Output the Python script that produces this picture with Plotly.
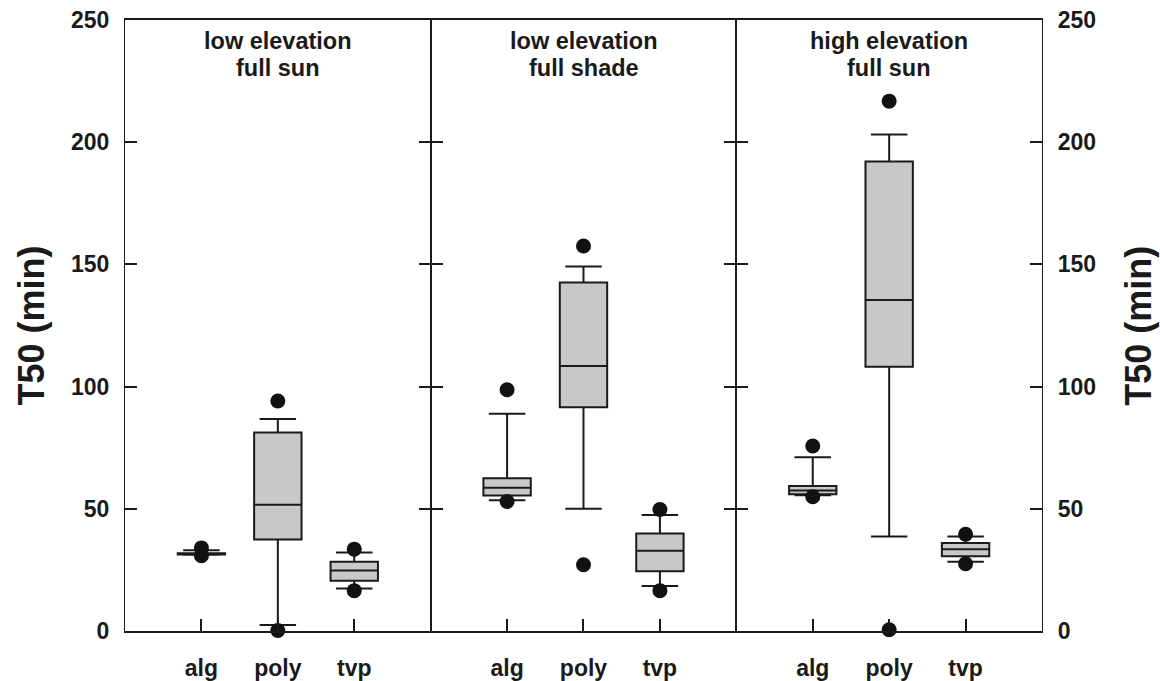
import plotly.graph_objects as go
from plotly.subplots import make_subplots

# Groups shown in each panel
categories = ["alg", "poly", "tvp"]
panel_elevation = ["low elevation", "low elevation", "high elevation"]
panel_light = ["full sun", "full shade", "full sun"]

# Box statistics per panel (rows) and category (columns), T50 in minutes
lower_fence = [[31.2, 2.5, 17.4], [53.5, 50.0, 18.4], [55.5, 38.7, 28.3]]
q1 = [[31.3, 37.4, 20.6], [55.4, 91.6, 24.4], [56.0, 108.1, 30.6]]
median = [[31.5, 51.7, 24.8], [58.6, 108.4, 32.8], [57.5, 135.4, 33.4]]
q3 = [[31.8, 81.2, 28.3], [62.5, 142.6, 39.9], [59.3, 192.1, 36.0]]
upper_fence = [[33.0, 86.7, 32.1], [88.9, 149.1, 47.5], [71.1, 203.1, 38.7]]

# Extreme points (above / below the whiskers)
outlier_high = [[34.0, 94.1, 33.5], [98.7, 157.5, 49.7], [75.7, 216.8, 39.6]]
outlier_low = [[30.8, 0.2, 16.5], [53.0, 27.1, 16.5], [54.9, 0.5, 27.5]]

y_ticks = [0, 50, 100, 150, 200, 250]

FONT = "Liberation Sans, Arial, sans-serif"
INK = "#1a1a1a"

fig = make_subplots(rows=1, cols=3, shared_yaxes=False, horizontal_spacing=0)

for p in range(3):
    col = p + 1
    for c, cat in enumerate(categories):
        fig.add_trace(
            go.Box(
                x=[cat],
                q1=[q1[p][c]],
                median=[median[p][c]],
                q3=[q3[p][c]],
                lowerfence=[lower_fence[p][c]],
                upperfence=[upper_fence[p][c]],
                boxpoints=False,
                width=0.62,
                whiskerwidth=0.77,
                fillcolor="#c8c8c8",
                line=dict(color=INK, width=2),
                showlegend=False,
                hoverinfo="y",
            ),
            row=1, col=col,
        )
    fig.add_trace(
        go.Scatter(
            x=categories + categories,
            y=outlier_high[p] + outlier_low[p],
            mode="markers",
            marker=dict(color="#111111", size=15),
            cliponaxis=False,
            showlegend=False,
        ),
        row=1, col=col,
    )
    # Two-line panel heading
    for text, ypos in ((panel_elevation[p], 0.9656), (panel_light[p], 0.9214)):
        fig.add_annotation(
            text=text,
            xref=f"x{'' if col == 1 else col} domain", yref="paper",
            x=0.5, y=ypos, xanchor="center", yanchor="middle",
            showarrow=False,
            font=dict(family=FONT, size=23.5, color=INK, weight="bold"),
        )

    fig.update_xaxes(
        type="category",
        categoryorder="array", categoryarray=categories,
        range=[-1, 3],
        showline=True, linecolor=INK, linewidth=1.5, mirror=True,
        ticks="inside", ticklen=12, tickwidth=1.5, tickcolor=INK,
        ticklabelstandoff=16,
        tickfont=dict(family=FONT, size=23, color=INK, weight="bold"),
        showgrid=False, zeroline=False, automargin=False,
        row=1, col=col,
    )
    fig.update_yaxes(
        range=[0, 250],
        tickvals=y_ticks,
        showline=True, linecolor=INK, linewidth=1.2, mirror="ticks",
        ticks="inside", ticklen=12, tickwidth=1.5, tickcolor=INK,
        showticklabels=(p != 1),
        side="right" if p == 2 else "left",
        ticklabelstandoff=10,
        tickfont=dict(family=FONT, size=23, color=INK, weight="bold"),
        showgrid=False, zeroline=False, automargin=False,
        row=1, col=col,
    )

# Axis titles on both sides
for xpos in (-0.1025, 1.105):
    fig.add_annotation(
        text="T50 (min)", xref="paper", yref="paper",
        x=xpos, y=0.5, xanchor="center", yanchor="middle",
        textangle=-90, showarrow=False,
        font=dict(family=FONT, size=36, color=INK, weight="bold"),
    )

fig.update_layout(
    width=1160, height=681,
    margin=dict(l=125, r=118, t=20, b=50),
    paper_bgcolor="white", plot_bgcolor="white",
    font=dict(family=FONT, color=INK),
)

fig.write_html("out.html")
